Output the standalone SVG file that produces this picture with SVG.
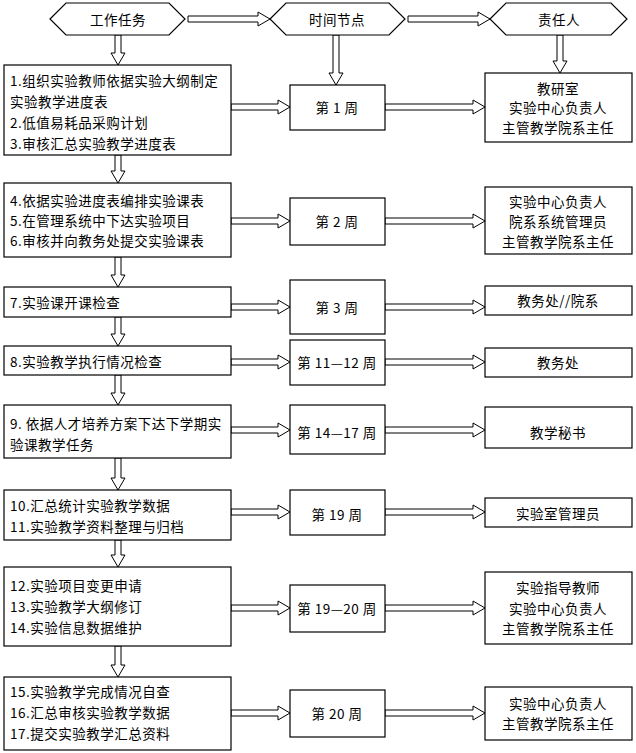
<svg xmlns="http://www.w3.org/2000/svg" width="636" height="753" viewBox="0 0 636 753">
<style>
.b{fill:#fff;stroke:#000;stroke-width:1.2}
.a{fill:#fff;stroke:#000;stroke-width:1}
text{font-family:"Noto Sans CJK SC","Liberation Serif",serif;font-size:13.5px;letter-spacing:0.5px;fill:#000;dominant-baseline:central}
.c{text-anchor:middle}
</style>
<rect width="636" height="753" fill="#fff"/>
<g id="connectors">
<polygon class="a" points="188,16 258,16 258,12 270,19 258,26 258,22 188,22"/>
<polygon class="a" points="408,16 478,16 478,12 490,19 478,26 478,22 408,22"/>
<polygon class="a" points="333,35 339,35 339,73 343,73 336,85 329,73 333,73"/>
<polygon class="a" points="557,35 563,35 563,61 567,61 560,73 553,61 557,61"/>
<polygon class="a" points="115,35 121,35 121,53 125,53 118,65 111,53 115,53"/>
<polygon class="a" points="115,155 121,155 121,171 125,171 118,183 111,171 115,171"/>
<polygon class="a" points="115,257 121,257 121,275 125,275 118,287 111,275 115,275"/>
<polygon class="a" points="115,317 121,317 121,334 125,334 118,346 111,334 115,334"/>
<polygon class="a" points="115,375 121,375 121,393 125,393 118,405 111,393 115,393"/>
<polygon class="a" points="115,458 121,458 121,478 125,478 118,490 111,478 115,478"/>
<polygon class="a" points="115,540 121,540 121,555 125,555 118,567 111,555 115,555"/>
<polygon class="a" points="115,646 121,646 121,665 125,665 118,677 111,665 115,665"/>
<polygon class="a" points="231,104 278,104 278,100 290,107 278,114 278,110 231,110"/>
<polygon class="a" points="385,104 473,104 473,100 485,107 473,114 473,110 385,110"/>
<polygon class="a" points="231,218 278,218 278,214 290,221 278,228 278,224 231,224"/>
<polygon class="a" points="385,218 473,218 473,214 485,221 473,228 473,224 385,224"/>
<polygon class="a" points="231,304 278,304 278,300 290,307 278,314 278,310 231,310"/>
<polygon class="a" points="385,304 473,304 473,300 485,307 473,314 473,310 385,310"/>
<polygon class="a" points="231,359 278,359 278,355 290,362 278,369 278,365 231,365"/>
<polygon class="a" points="385,359 473,359 473,355 485,362 473,369 473,365 385,365"/>
<polygon class="a" points="231,427 278,427 278,423 290,430 278,437 278,433 231,433"/>
<polygon class="a" points="385,427 473,427 473,423 485,430 473,437 473,433 385,433"/>
<polygon class="a" points="231,509 278,509 278,505 290,512 278,519 278,515 231,515"/>
<polygon class="a" points="385,509 473,509 473,505 485,512 473,519 473,515 385,515"/>
<polygon class="a" points="231,605 278,605 278,601 290,608 278,615 278,611 231,611"/>
<polygon class="a" points="385,605 473,605 473,601 485,608 473,615 473,611 385,611"/>
<polygon class="a" points="231,710 278,710 278,706 290,713 278,720 278,716 231,716"/>
<polygon class="a" points="385,710 473,710 473,706 485,713 473,720 473,716 385,716"/>
</g>
<g id="h1"><polygon class="b" points="50,19 66,3 169,3 185,19 169,35 66,35"/><text class="c" x="118" y="19">工作任务</text></g>
<g id="h2"><polygon class="b" points="270,19 286,3 389,3 405,19 389,35 286,35"/><text class="c" x="337" y="19">时间节点</text></g>
<g id="h3"><polygon class="b" points="490,19 506,3 611,3 627,19 611,35 506,35"/><text class="c" x="559" y="19">责任人</text></g>
<g id="l1"><rect class="b" x="4" y="65" width="227" height="90"/><text x="10" y="80">1.组织实验教师依据实验大纲制定</text><text x="10" y="101">实验教学进度表</text><text x="10" y="122">2.低值易耗品采购计划</text><text x="10" y="143">3.审核汇总实验教学进度表</text></g>
<g id="m1"><rect class="b" x="290" y="85" width="95" height="45"/><text class="c" x="337" y="107">第 1 周</text></g>
<g id="r1"><rect class="b" x="485" y="73" width="147" height="69"/><text class="c" x="558" y="88">教研室</text><text class="c" x="558" y="107">实验中心负责人</text><text class="c" x="558" y="127">主管教学院系主任</text></g>
<g id="l2"><rect class="b" x="4" y="183" width="227" height="74"/><text x="10" y="200">4.依据实验进度表编排实验课表</text><text x="10" y="220">5.在管理系统中下达实验项目</text><text x="10" y="240">6.审核并向教务处提交实验课表</text></g>
<g id="m2"><rect class="b" x="290" y="198" width="95" height="47"/><text class="c" x="337" y="221">第 2 周</text></g>
<g id="r2"><rect class="b" x="485" y="187" width="147" height="67"/><text class="c" x="558" y="201">实验中心负责人</text><text class="c" x="558" y="221">院系系统管理员</text><text class="c" x="558" y="241">主管教学院系主任</text></g>
<g id="l3"><rect class="b" x="4" y="287" width="227" height="30"/><text x="10" y="302">7.实验课开课检查</text></g>
<g id="m3"><rect class="b" x="290" y="280" width="95" height="54"/><text class="c" x="337" y="307">第 3 周</text></g>
<g id="r3"><rect class="b" x="485" y="286" width="147" height="29"/><text class="c" x="558" y="300">教务处//院系</text></g>
<g id="l4"><rect class="b" x="4" y="346" width="227" height="29"/><text x="10" y="361">8.实验教学执行情况检查</text></g>
<g id="m4"><rect class="b" x="290" y="340" width="95" height="45"/><text class="c" x="337" y="362">第 11—12 周</text></g>
<g id="r4"><rect class="b" x="485" y="348" width="147" height="29"/><text class="c" x="558" y="362">教务处</text></g>
<g id="l5"><rect class="b" x="4" y="405" width="227" height="53"/><text x="10" y="423">9. 依据人才培养方案下达下学期实</text><text x="10" y="444">验课教学任务</text></g>
<g id="m5"><rect class="b" x="290" y="405" width="95" height="49"/><text class="c" x="337" y="432">第 14—17 周</text></g>
<g id="r5"><rect class="b" x="485" y="407" width="147" height="41"/><text class="c" x="558" y="432">教学秘书</text></g>
<g id="l6"><rect class="b" x="4" y="490" width="227" height="50"/><text x="10" y="505">10.汇总统计实验教学数据</text><text x="10" y="526">11.实验教学资料整理与归档</text></g>
<g id="m6"><rect class="b" x="290" y="490" width="95" height="45"/><text class="c" x="337" y="514">第 19 周</text></g>
<g id="r6"><rect class="b" x="485" y="498" width="147" height="29"/><text class="c" x="558" y="513">实验室管理员</text></g>
<g id="l7"><rect class="b" x="4" y="567" width="227" height="79"/><text x="10" y="585">12.实验项目变更申请</text><text x="10" y="606">13.实验教学大纲修订</text><text x="10" y="627">14.实验信息数据维护</text></g>
<g id="m7"><rect class="b" x="290" y="585" width="95" height="47"/><text class="c" x="337" y="608">第 19—20 周</text></g>
<g id="r7"><rect class="b" x="485" y="572" width="147" height="72"/><text class="c" x="558" y="587">实验指导教师</text><text class="c" x="558" y="608">实验中心负责人</text><text class="c" x="558" y="628">主管教学院系主任</text></g>
<g id="l8"><rect class="b" x="4" y="677" width="227" height="73"/><text x="10" y="691">15.实验教学完成情况自查</text><text x="10" y="712">16.汇总审核实验教学数据</text><text x="10" y="733">17.提交实验教学汇总资料</text></g>
<g id="m8"><rect class="b" x="290" y="690" width="95" height="47"/><text class="c" x="337" y="713">第 20 周</text></g>
<g id="r8"><rect class="b" x="485" y="687" width="147" height="53"/><text class="c" x="558" y="703">实验中心负责人</text><text class="c" x="558" y="723">主管教学院系主任</text></g>
</svg>
